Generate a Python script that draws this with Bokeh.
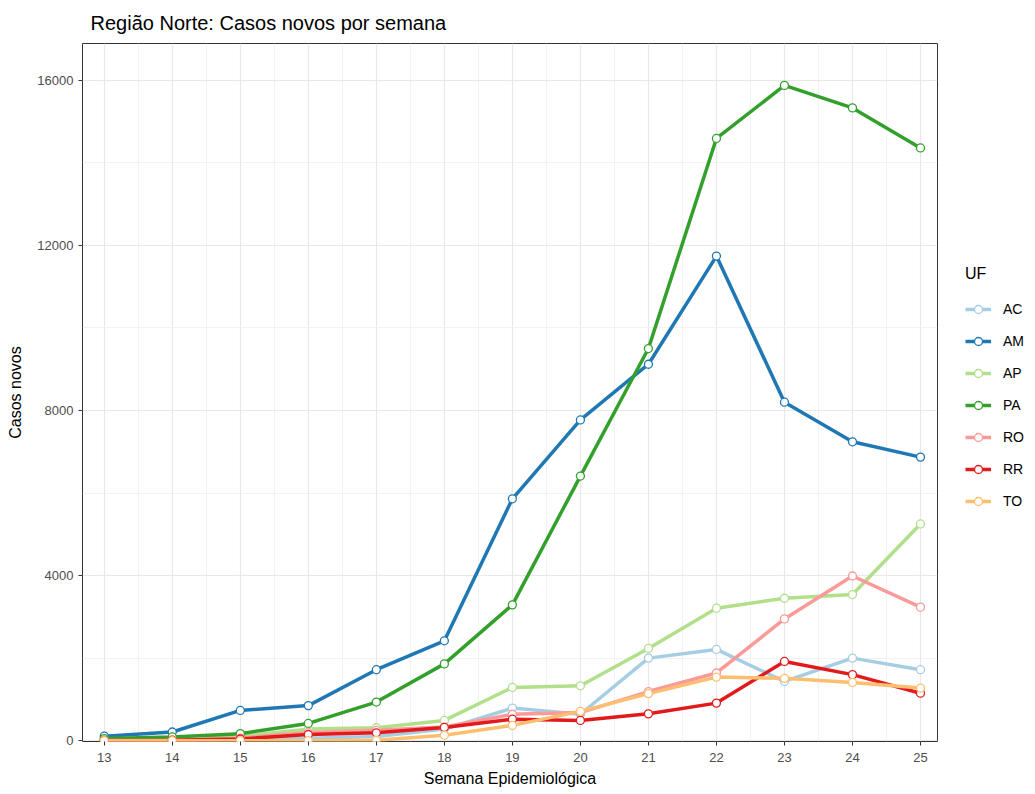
from bokeh.plotting import figure
from bokeh.models import FixedTicker, Legend, LegendItem, Range1d
from bokeh.embed import file_html
from bokeh.resources import INLINE

weeks = [13, 14, 15, 16, 17, 18, 19, 20, 21, 22, 23, 24, 25]
AC = [5, 10, 30, 60, 100, 280, 790, 640, 2000, 2210, 1435, 2000, 1720]
AM = [110, 210, 733, 850, 1720, 2420, 5860, 7770, 9120, 11740, 8200, 7240, 6870]
AP = [20, 40, 110, 280, 313, 490, 1290, 1330, 2235, 3210, 3450, 3540, 5250]
PA = [50, 90, 170, 418, 935, 1860, 3290, 6410, 9500, 14590, 15875, 15330, 14360]
RO = [5, 10, 60, 200, 250, 330, 640, 680, 1190, 1640, 2950, 3990, 3235]
RR = [5, 10, 40, 150, 190, 320, 520, 490, 650, 910, 1920, 1600, 1150]
TO = [0, 0, 0, 0, 10, 130, 370, 710, 1140, 1540, 1510, 1410, 1275]

series = [("AC", AC, "#A6CEE3"), ("AM", AM, "#1F78B4"), ("AP", AP, "#B2DF8A"),
          ("PA", PA, "#33A02C"), ("RO", RO, "#FB9A99"), ("RR", RR, "#E31A1C"),
          ("TO", TO, "#FDBF6F")]

FONT = "Liberation Sans"

p = figure(frame_width=855, frame_height=698, output_backend="svg", toolbar_location=None,
           x_range=Range1d(12.68, 25.25), y_range=Range1d(-20, 16890),
           min_border_left=82, min_border_top=43, min_border_bottom=46, min_border_right=0,
           title="Região Norte: Casos novos por semana")

p.title.text_font = FONT
p.title.text_font_size = "20px"
p.title.text_font_style = "normal"
p.title.text_color = "#000000"
p.title.offset = 8
p.title.standoff = 16
p.title.vertical_align = "top"

p.background_fill_color = "white"
p.border_fill_color = "white"
p.outline_line_color = "#333333"
p.outline_line_width = 1

p.xaxis.ticker = FixedTicker(ticks=weeks, minor_ticks=[w + 0.5 for w in weeks[:-1]] + [12.5])
p.yaxis.ticker = FixedTicker(ticks=[0, 4000, 8000, 12000, 16000],
                             minor_ticks=[2000, 6000, 10000, 14000])
for ax in (p.xaxis, p.yaxis):
    ax.axis_line_color = None
    ax.major_tick_line_color = "#333333"
    ax.major_tick_out = 4
    ax.major_tick_in = 0
    ax.minor_tick_line_color = None
    ax.major_label_text_font = FONT
    ax.major_label_text_font_size = "13px"
    ax.major_label_text_color = "#4D4D4D"
    ax.axis_label_text_font = FONT
    ax.axis_label_text_font_size = "16px"
    ax.axis_label_text_font_style = "normal"
    ax.axis_label_text_color = "#000000"
p.yaxis.major_label_orientation = "horizontal"
p.xaxis.axis_label = "Semana Epidemiológica"
p.yaxis.axis_label = "Casos novos"
p.xaxis.axis_label_standoff = 5
p.yaxis.axis_label_standoff = 10
p.xaxis.major_label_standoff = 7
p.yaxis.major_label_standoff = 5

for g in (p.xgrid, p.ygrid):
    g.grid_line_color = "#E8E8E8"
    g.grid_line_width = 1.2
    g.minor_grid_line_color = "#EFEFEF"
    g.minor_grid_line_width = 0.8

lines = {}
for name, vals, col in series:
    lines[name] = p.line(weeks, vals, line_color=col, line_width=3.5)
pts = {}
for name, vals, col in series:
    pts[name] = p.scatter(weeks, vals, size=8, fill_color="white", line_color=col, line_width=1.3)

items = [LegendItem(label=name, renderers=[lines[name], pts[name]]) for name, _, _ in series]
legend = Legend(items=items, location=(28, 230), title="UF")
legend.title_text_font = FONT
legend.title_text_font_size = "16px"
legend.title_text_font_style = "normal"
legend.title_text_color = "#000000"
legend.title_standoff = 16
legend.label_text_font = FONT
legend.label_text_font_size = "14px"
legend.label_text_color = "#000000"
legend.glyph_width = 26
legend.glyph_height = 20
legend.label_standoff = 12
legend.spacing = 12
legend.padding = 0
legend.margin = 0
legend.border_line_color = None
legend.background_fill_alpha = 0
p.add_layout(legend, "right")

open("out.html", "w").write(file_html(p, INLINE))
